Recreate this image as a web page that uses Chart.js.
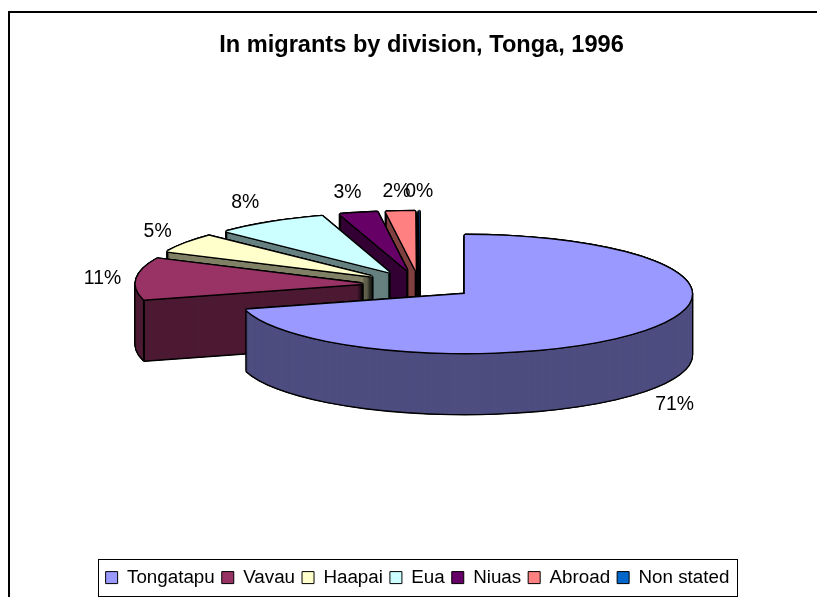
<!DOCTYPE html>
<html>
<head>
<meta charset="utf-8">
<script src="https://cdn.jsdelivr.net/npm/chart.js@4"></script>
<style>
html,body{margin:0;padding:0;background:#fff;overflow:hidden}
#wrap{position:relative;width:817px;height:597px;overflow:hidden}
#frame{position:absolute;left:8px;top:11px;width:900px;height:700px;border:2px solid #000}
canvas{position:absolute;left:0;top:0}
</style>
</head>
<body>
<div id="wrap"><div id="frame"></div><canvas id="c" width="817" height="597"></canvas></div>
<script>
const titleText = 'In migrants by division, Tonga, 1996';
const categories = ['Tongatapu','Vavau','Haapai','Eua','Niuas','Abroad','Non stated'];
const values = [70.7,11.3,5.2,8.0,2.7,2.06,0.04];
const topColors = ['#9999FF','#993366','#FFFFCC','#CCFFFF','#660066','#FF8080','#0066CC'];
const wallColors = ['#4D4D80','#4D1A33','#808066','#668080','#330033','#804040','#003366'];

const CX = 419.5, CY = 285, R = 227, K = 0.26, DEPTH = 61, EXPLODE = 57, HALO = 1.4;
const total = values.reduce((a,b)=>a+b,0);
const labelShift = [[29,75],[-34,0],[-28,-11],[-25,-20],[-11,-20],[-4,-20],[0,-20]];

function apex(el){
  const mid = (el.startAngle + el.endAngle)/2;
  return {x: CX + EXPLODE*Math.cos(mid), y: CY + EXPLODE*Math.sin(mid)*K};
}
function paint(ctx, el, color, dx, dy){
  const a = apex(el), saved = el.options;
  el.options = {backgroundColor:color,borderColor:color,borderWidth:0,borderAlign:'center',
    borderJoinStyle:'round',borderRadius:0,borderDash:[],borderDashOffset:0,offset:0,spacing:0,circular:true};
  ctx.save();
  ctx.translate(a.x+dx, a.y+dy);
  ctx.scale(1,K);
  ctx.translate(-el.x,-el.y);
  el.draw(ctx);
  ctx.restore();
  el.options = saved;
}
const halo = [[-1,0],[1,0],[0,-1],[0,1],[-.7,-.7],[.7,-.7],[-.7,.7],[.7,.7]];
const pie3d = {
  id:'pie3d',
  beforeDatasetsDraw(chart){
    const ctx = chart.ctx, arcs = chart.getDatasetMeta(0).data;
    for(let i=arcs.length-1;i>=0;i--){
      const el = arcs[i], a = apex(el);
      for(let d=DEPTH;d>=0;d--) for(const h of halo) paint(ctx,el,'#000',h[0]*HALO,d+h[1]*HALO);
      for(let d=DEPTH;d>=1;d--) paint(ctx,el,wallColors[i],0,d);
      if(el.circumference < Math.PI){
        const rx = a.x + R*Math.cos(el.startAngle), ry = a.y + R*K*Math.sin(el.startAngle);
        ctx.save();
        ctx.strokeStyle='#000';ctx.lineWidth=2;
        ctx.beginPath();
        ctx.moveTo(a.x,a.y);ctx.lineTo(a.x,a.y+DEPTH);
        ctx.moveTo(rx,ry);ctx.lineTo(rx,ry+DEPTH);
        ctx.stroke();
        ctx.restore();
      }
      for(const h of halo) paint(ctx,el,'#000',h[0]*HALO,h[1]*HALO);
      paint(ctx,el,topColors[i],0,0);
    }
    return false;
  },
  afterDraw(chart){
    const ctx = chart.ctx, arcs = chart.getDatasetMeta(0).data, lg = chart.legend;
    ctx.save();
    ctx.fillStyle='#000';ctx.textAlign='center';ctx.textBaseline='middle';
    ctx.font='19.4px "Liberation Sans"';
    arcs.forEach((el,i)=>{
      const a = apex(el), mid=(el.startAngle+el.endAngle)/2;
      ctx.fillText(Math.round(values[i]/total*100)+'%',
        a.x+R*Math.cos(mid)+labelShift[i][0], a.y+R*K*Math.sin(mid)+labelShift[i][1]);
    });
    const hb = lg.legendHitBoxes, f = hb[0], l = hb[hb.length-1];
    ctx.strokeStyle='#000';ctx.lineWidth=1;
    ctx.strokeRect(Math.round(f.left)-7.5,559.5,Math.round(l.left+l.width-f.left)+15,37);
    ctx.restore();
  },
  afterLayout(chart){
    chart.titleBlock.left += 4; chart.titleBlock.right += 4;
  }
};
new Chart(document.getElementById('c'),{
  type:'pie',
  data:{labels:categories,datasets:[{data:values,backgroundColor:topColors,borderColor:'#000',borderWidth:1}]},
  options:{
    responsive:false,animation:false,radius:R,
    layout:{padding:{left:18,right:0,top:0,bottom:0}},
    plugins:{
      tooltip:{enabled:false},
      title:{display:true,text:titleText,color:'#000',
        font:{family:'"Liberation Sans"',size:23.6,weight:'bold'},padding:{top:31,bottom:10}},
      legend:{position:'bottom',labels:{color:'#000',boxWidth:12,boxHeight:12,padding:7,
        font:{family:'"Liberation Sans"',size:18.8}}}
    }
  },
  plugins:[pie3d]
});
</script>
</body>
</html>
